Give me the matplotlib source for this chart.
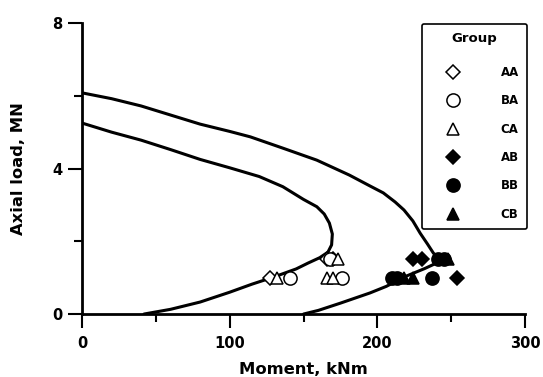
import matplotlib.pyplot as plt
from matplotlib.ticker import MultipleLocator

# interaction curves (moment kNm, axial load MN)
outer_m = [0, 20, 40, 60, 80, 100, 114, 136, 159, 181, 195, 204, 212, 218, 224, 229, 234,
           238, 242, 244, 240, 232, 220, 206, 195, 175, 160, 150]
outer_n = [6.08, 5.92, 5.72, 5.47, 5.22, 5.02, 4.87, 4.56, 4.23, 3.82, 3.52, 3.33, 3.08, 2.86,
           2.56, 2.22, 1.92, 1.67, 1.55, 1.5, 1.4, 1.25, 1.05, 0.76, 0.58, 0.3, 0.1, 0.0]
inner_m = [0, 20, 40, 60, 80, 100, 120, 136, 150, 159, 164, 167.5, 169.5, 169, 166.5, 161,
           153, 145, 130, 115, 100, 80, 60, 42]
inner_n = [5.25, 5.0, 4.78, 4.52, 4.25, 4.02, 3.78, 3.5, 3.15, 2.95, 2.75, 2.5, 2.2, 1.9, 1.7,
           1.55, 1.4, 1.24, 1.02, 0.82, 0.6, 0.33, 0.13, 0.0]

# test results per group
groups = ['AA', 'BA', 'CA', 'AB', 'BB', 'CB']
group_m = {
    'AA': [127, 166, 170],
    'BA': [141, 168, 176],
    'CA': [132, 173, 166, 170],
    'AB': [224, 230, 254],
    'BB': [210, 213, 237, 241, 245],
    'CB': [218, 224, 248],
}
group_n = {
    'AA': [1.0, 1.5, 1.5],
    'BA': [1.0, 1.5, 1.0],
    'CA': [1.0, 1.5, 1.0, 1.0],
    'AB': [1.5, 1.5, 1.0],
    'BB': [1.0, 1.0, 1.0, 1.5, 1.5],
    'CB': [1.0, 1.0, 1.5],
}
markers = {'AA': 'D', 'BA': 'o', 'CA': '^', 'AB': 'D', 'BB': 'o', 'CB': '^'}
sizes = {'D': 7, 'o': 9.5, '^': 9}

plt.rcParams['font.family'] = 'DejaVu Sans'
plt.rcParams['font.weight'] = 'bold'

fig = plt.figure(figsize=(5.43, 3.77), dpi=100)
ax = fig.add_axes([0.151, 0.167, 0.816, 0.772])

ax.plot(outer_m, outer_n, color='black', lw=2.2, solid_capstyle='round', solid_joinstyle='round')
ax.plot(inner_m, inner_n, color='black', lw=2.2, solid_capstyle='round', solid_joinstyle='round')

for g in groups:
    mk = markers[g]
    filled = g.endswith('B')
    ax.plot(group_m[g], group_n[g], linestyle='none', marker=mk,
            markersize=sizes[mk],
            markerfacecolor='black' if filled else 'white',
            markeredgecolor='black', markeredgewidth=1.1, label=g, zorder=3)

ax.set_xlim(0, 300)
ax.set_ylim(0, 8)
ax.xaxis.set_major_locator(MultipleLocator(100))
ax.xaxis.set_minor_locator(MultipleLocator(50))
ax.yaxis.set_major_locator(MultipleLocator(4))
ax.yaxis.set_minor_locator(MultipleLocator(2))
ax.tick_params(which='major', direction='out', width=1.5, length=10, labelsize=10.5)
ax.tick_params(which='minor', direction='out', width=1.5, length=5.8)
ax.tick_params(axis='x', which='major', pad=6)
ax.tick_params(axis='y', which='major', pad=4)
for s in ['top', 'right']:
    ax.spines[s].set_visible(False)
for s in ['left', 'bottom']:
    ax.spines[s].set_linewidth(2)

ax.set_xlabel('Moment, kNm', fontsize=11.8, fontweight='bold')
ax.set_ylabel('Axial load, MN', fontsize=11.8, fontweight='bold')
ax.xaxis.set_label_coords(0.5, -0.165)
ax.yaxis.set_label_coords(-0.126, 0.5)

leg = ax.legend(title='Group', loc='upper right', bbox_to_anchor=(1.0045, 0.9966),
                borderaxespad=0, fontsize=8.5, title_fontsize=9.5, labelspacing=1.3,
                handlelength=3.85, handletextpad=2.1, borderpad=0.7,
                fancybox=True, edgecolor='black', framealpha=1)
leg.get_frame().set_linewidth(1.2)
leg.get_title().set_fontweight('bold')
# a bit more room between the title and the first entry
leg._legend_box.sep = 15

fig.savefig('out.png', dpi=100)
